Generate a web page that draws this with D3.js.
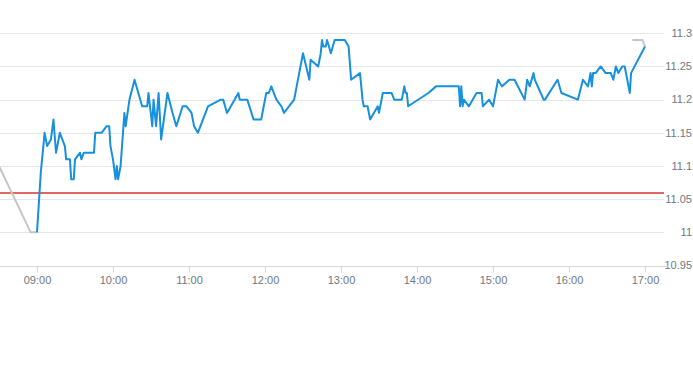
<!DOCTYPE html>
<html lang="en">

<head>
    <meta charset="UTF-8">
    <title>intraday</title>
    <style>
    body {
        margin: 0;
        background: #fff;
    }

    text {
        font: 11px "Liberation Sans", Arial, sans-serif;
        fill: #707782;
    }

    .prev-close {
        stroke: #d8342c;
        stroke-width: 1.3px;
    }
    </style>
</head>

<body>
    <svg width="693" height="365"></svg>
    <script src="https://d3js.org/d3.v7.min.js"></script>
</body>
<script>
// intraday prices (time, price)
var times = ["09:00", "09:03", "09:06", "09:08", "09:11", "09:13", "09:15", "09:18", "09:22", "09:23",
    "09:26", "09:27", "09:29", "09:30", "09:34", "09:35", "09:37", "09:45", "09:46", "09:51",
    "09:55", "09:57", "09:58", "10:00", "10:02", "10:03", "10:04", "10:06", "10:09", "10:10",
    "10:13", "10:17", "10:23", "10:27", "10:28", "10:31", "10:32", "10:34", "10:36", "10:38",
    "10:43", "10:47", "10:50", "10:55", "10:58", "11:02", "11:04", "11:07", "11:11", "11:15",
    "11:25", "11:27", "11:30", "11:39", "11:40", "11:46", "11:51", "11:57", "12:01", "12:03",
    "12:05", "12:09", "12:13", "12:15", "12:23", "12:30", "12:35", "12:36", "12:42", "12:44",
    "12:45", "12:46", "12:48", "12:49", "12:52", "12:55", "13:03", "13:06", "13:08", "13:15",
    "13:17", "13:18", "13:21", "13:23", "13:29", "13:30", "13:33", "13:40", "13:42", "13:48",
    "13:50", "13:51", "13:52", "13:53", "14:09", "14:15", "14:33", "14:34", "14:35", "14:36",
    "14:37", "14:41", "14:47", "14:51", "14:52", "14:57", "15:00", "15:02", "15:04", "15:07",
    "15:13", "15:17", "15:25", "15:27", "15:29", "15:32", "15:33", "15:40", "15:41", "15:51",
    "15:54", "16:07", "16:11", "16:15", "16:17", "16:18", "16:19", "16:21", "16:25", "16:29",
    "16:33", "16:35", "16:37", "16:39", "16:42", "16:44", "16:48", "16:49", "17:00"];
var prices = [11.00, 11.09, 11.15, 11.13, 11.14, 11.17, 11.12, 11.15, 11.13, 11.11,
    11.11, 11.08, 11.08, 11.11, 11.12, 11.11, 11.12, 11.12, 11.15, 11.15,
    11.16, 11.16, 11.13, 11.11, 11.08, 11.10, 11.08, 11.10, 11.18, 11.16,
    11.20, 11.23, 11.19, 11.19, 11.21, 11.16, 11.20, 11.16, 11.21, 11.14,
    11.21, 11.18, 11.16, 11.19, 11.19, 11.18, 11.16, 11.15, 11.17, 11.19,
    11.20, 11.20, 11.18, 11.21, 11.20, 11.20, 11.17, 11.17, 11.21, 11.21,
    11.22, 11.20, 11.19, 11.18, 11.20, 11.27, 11.23, 11.26, 11.25, 11.27,
    11.29, 11.28, 11.28, 11.29, 11.27, 11.29, 11.29, 11.28, 11.23, 11.24,
    11.20, 11.19, 11.19, 11.17, 11.19, 11.18, 11.21, 11.21, 11.20, 11.20,
    11.22, 11.21, 11.21, 11.19, 11.21, 11.22, 11.22, 11.19, 11.22, 11.19,
    11.20, 11.19, 11.21, 11.21, 11.19, 11.20, 11.19, 11.21, 11.23, 11.22,
    11.23, 11.23, 11.20, 11.23, 11.22, 11.24, 11.23, 11.20, 11.20, 11.23,
    11.21, 11.20, 11.23, 11.22, 11.24, 11.22, 11.24, 11.24, 11.25, 11.24,
    11.24, 11.23, 11.25, 11.24, 11.25, 11.25, 11.21, 11.24, 11.28];

// pre / post market segments in gray
var preTimes = ["08:30", "08:55", "09:00"];
var prePrices = [11.10, 11.00, 11.00];
var postTimes = ["16:50", "16:58", "17:00"];
var postPrices = [11.29, 11.29, 11.28];

var prevClose = 11.06;

var yTicks = [10.95, 11, 11.05, 11.1, 11.15, 11.2, 11.25, 11.3];
var xTicks = ["09:00", "10:00", "11:00", "12:00", "13:00", "14:00", "15:00", "16:00", "17:00"];

var parse = d3.timeParse("%H:%M");

var svg = d3.select("svg"),
    plotW = 664;

var x = d3.scaleTime()
    .domain([parse("08:30"), parse("17:15")])
    .range([-1, plotW]);

var y = d3.scaleLinear()
    .domain([10.95, 11.3])
    .range([265.5, 33.3]);

svg.append("clipPath").attr("id", "clip")
    .append("rect")
    .attr("x", 0).attr("y", 0)
    .attr("width", plotW).attr("height", 300);

// horizontal grid
svg.append("g")
    .selectAll("line")
    .data(yTicks.slice(1))
    .enter().append("line")
    .attr("x1", 0)
    .attr("x2", plotW)
    .attr("y1", function(d) { return Math.round(y(d)) + 0.5; })
    .attr("y2", function(d) { return Math.round(y(d)) + 0.5; })
    .attr("stroke", "#e6e6e6");

// y labels on the right
svg.append("g")
    .selectAll("text")
    .data(yTicks)
    .enter().append("text")
    .attr("x", 692)
    .attr("y", function(d) { return y(d); })
    .attr("dy", "0.35em")
    .attr("text-anchor", "end")
    .text(function(d) { return d3.format("~g")(d); });

// x axis
var xAxis = d3.axisBottom(x)
    .tickValues(xTicks.map(parse))
    .tickFormat(d3.timeFormat("%H:%M"))
    .tickSize(6)
    .tickPadding(4);

var gx = svg.append("g")
    .attr("transform", "translate(0," + (Math.round(y(10.95)) + 0.5) + ")")
    .call(xAxis);
gx.select(".domain").attr("d", "M0,0H" + (plotW + 4)).attr("stroke", "#d3d6db");
gx.selectAll(".tick line").attr("stroke", "#d3d6db");
gx.selectAll(".tick text").attr("fill", "#707782").style("font-size", "11px")
    .style("font-family", "'Liberation Sans', Arial, sans-serif");

// previous close
var pc = Math.round(y(prevClose));
svg.append("path")
    .attr("class", "prev-close")
    .attr("d", "M0," + pc + "H" + plotW)
    .attr("fill", "none");

var line = d3.line()
    .x(function(d) { return x(parse(d[0])); })
    .y(function(d) { return y(d[1]); });

var plot = svg.append("g").attr("clip-path", "url(#clip)");

plot.append("path")
    .datum(d3.zip(preTimes, prePrices))
    .attr("d", line)
    .attr("fill", "none")
    .attr("stroke", "#c3c7cc")
    .attr("stroke-width", 2);

plot.append("path")
    .datum(d3.zip(postTimes, postPrices))
    .attr("d", line)
    .attr("fill", "none")
    .attr("stroke", "#c3c7cc")
    .attr("stroke-width", 2);

plot.append("path")
    .datum(d3.zip(times, prices))
    .attr("d", line)
    .attr("fill", "none")
    .attr("stroke", "#1790dd")
    .attr("stroke-width", 2)
    .attr("stroke-linejoin", "round");
</script>

</html>
